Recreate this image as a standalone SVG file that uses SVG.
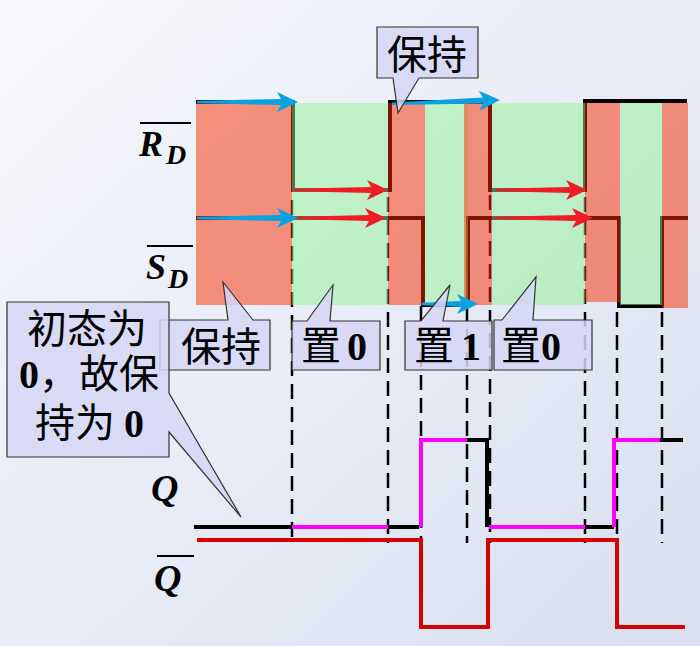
<svg xmlns="http://www.w3.org/2000/svg" width="700" height="646" viewBox="0 0 700 646">
<defs>
<linearGradient id="bg" x1="0" y1="0" x2="1" y2="1">
<stop offset="0" stop-color="#f7f8fc"/>
<stop offset="1" stop-color="#d9dff0"/>
</linearGradient>
</defs>
<style>
.w{fill:none;stroke:#000;stroke-width:4}
.dash{fill:none;stroke:#000;stroke-width:2.5;stroke-dasharray:15 8}
.rb{fill:rgb(250,44,0);fill-opacity:0.5}
.gb{fill:rgb(146,244,150);fill-opacity:0.5}
.ba{fill:#0aa0e2}
.ra{fill:#ee1c25}
.q{fill:none;stroke-width:4}
.lab{font-family:"Liberation Serif",serif;font-weight:bold;font-style:italic;fill:#000}
.cj{font-family:"Noto Sans CJK SC","Noto Sans",sans-serif;font-size:40px;fill:#000}
.num{font-family:"Liberation Serif",serif;font-weight:bold}
.co{fill:#d6d6f6;fill-opacity:0.85;stroke:#333;stroke-width:1.2}
</style>
<rect width="700" height="646" fill="url(#bg)"/>

<g id="connectors">
<g id="dashes">
<path class="dash" d="M292,200V543M388,197V543M421,306V543M467,306V543M490,195V543M585,197V543M617,312V543M662,312V543"/>
</g>
<g id="wave-rd">
<path class="w" d="M196,102H293V190H390V102H490V190H585V101H687"/>
</g>
<g id="wave-sd">
<path class="w" d="M196,218H423V305H468V218H619V306H662V218H688"/>
</g>
</g>

<g id="bands">
<rect class="rb" x="196" y="103" width="96" height="202"/>
<rect class="gb" x="292" y="103" width="96" height="202"/>
<rect class="rb" x="388" y="103" width="37" height="202"/>
<rect class="gb" x="425" y="103" width="43" height="202"/>
<rect class="rb" x="464" y="103" width="28" height="202"/>
<rect class="gb" x="492" y="103" width="93" height="202"/>
<rect class="rb" x="585" y="103" width="35" height="199"/>
<rect class="gb" x="620" y="103" width="42" height="202"/>
<rect class="rb" x="662" y="103" width="26" height="205"/>
</g>

<g id="arrows">
<path class="ba" transform="translate(298,102)" d="M-101,-1.2L-17,-3L-21,-10L0,0L-21,10L-17,3L-101,1.2Z"/>
<path class="ba" transform="translate(298,218)" d="M-101,-1.2L-17,-3L-21,-10L0,0L-21,10L-17,3L-101,1.2Z"/>
<path class="ba" transform="translate(500,100) rotate(-2)" d="M-108,-1.2L-17,-3L-21,-10L0,0L-21,10L-17,3L-108,1.2Z"/>
<path class="ba" transform="translate(478,304)" d="M-56,-1.2L-17,-3L-21,-10L0,0L-21,10L-17,3L-56,1.2Z"/>
<path class="ra" transform="translate(388,190)" d="M-95,-1.2L-17,-3L-21,-10L0,0L-21,10L-17,3L-95,1.2Z"/>
<path class="ra" transform="translate(386,218)" d="M-89,-1.2L-17,-3L-21,-10L0,0L-21,10L-17,3L-89,1.2Z"/>
<path class="ra" transform="translate(587,190)" d="M-91,-1.2L-17,-3L-21,-10L0,0L-21,10L-17,3L-91,1.2Z"/>
<path class="ra" transform="translate(593,218)" d="M-99,-1.2L-17,-3L-21,-10L0,0L-21,10L-17,3L-99,1.2Z"/>
</g>

<g id="wave-q">
<path class="q" stroke="#000" d="M194,527H292M386,527H419M467,440H487V527M585,527H614M658,440H683"/>
<path class="q" stroke="#ff00ff" d="M292,527H388M421,527V440H467M489,527H585M614,527V440H660"/>
</g>
<g id="wave-qbar">
<path class="q" stroke="#d40000" d="M197,540H421V627H488V540H617V627H685"/>
</g>

<g id="labels">
<g id="label-rd">
<line x1="140" y1="123" x2="191" y2="123" stroke="#000" stroke-width="2"/>
<text class="lab" x="139" y="156" font-size="36">R<tspan x="166" y="164" font-size="28">D</tspan></text>
</g>
<g id="label-sd">
<line x1="147" y1="246" x2="193" y2="246" stroke="#000" stroke-width="2"/>
<text class="lab" x="146" y="279" font-size="36">S<tspan x="168" y="288" font-size="28">D</tspan></text>
</g>
<g id="label-q">
<text class="lab" x="151" y="501" font-size="38">Q</text>
</g>
<g id="label-qbar">
<line x1="157" y1="556" x2="194" y2="556" stroke="#000" stroke-width="2"/>
<text class="lab" x="154" y="591" font-size="38">Q</text>
</g>
</g>

<g id="callout-hold-top">
<path class="co" d="M377,27H478V78H419L398,113L393,78H377Z"/>
<text class="cj" x="427" y="69" text-anchor="middle">保持</text>
</g>
<g id="callout-hold-low">
<path class="co" d="M160,320H228L223,282L253,320H270V370H160Z"/>
<text class="cj" x="221" y="361" text-anchor="middle">保持</text>
</g>
<g id="callout-set0a">
<path class="co" d="M292,321H307L333,285L330,321H380V370H292Z"/>
<text class="cj" x="301" y="360" font-size="38">置<tspan class="num" x="347">0</tspan></text>
</g>
<g id="callout-set1">
<path class="co" d="M405,321H421L450,285L443,321H492V370H405Z"/>
<text class="cj" x="414" y="360" font-size="38">置<tspan class="num" x="461">1</tspan></text>
</g>
<g id="callout-set0b">
<path class="co" d="M494,320H502L536,277L533,320H592V370H494Z"/>
<text class="cj" x="501" y="360" font-size="38">置<tspan class="num">0</tspan></text>
</g>
<g id="callout-init">
<path class="co" stroke="#d00000" d="M7,302H169V393L241,517L169,432V457H7Z"/>
<text class="cj"><tspan x="27" y="343">初态为</tspan><tspan x="19" y="388" class="num">0</tspan><tspan>，故保</tspan><tspan x="35" y="437">持为</tspan><tspan class="num" x="124">0</tspan></text>
</g>
</svg>
